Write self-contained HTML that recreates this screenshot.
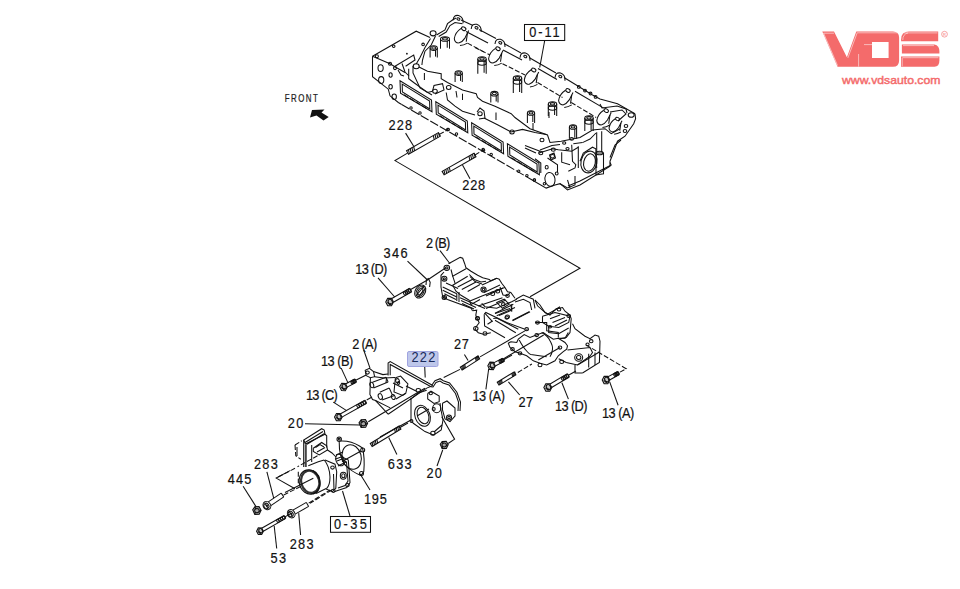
<!DOCTYPE html><html><head><meta charset="utf-8"><style>html,body{margin:0;padding:0;background:#fff;width:960px;height:589px;overflow:hidden}svg{display:block}.s,.s *{fill:none;stroke:#111;stroke-width:1.05}.d{stroke-dasharray:5 2}.d2{stroke-dasharray:9 2}.lbl{font-family:"Liberation Sans",sans-serif;font-size:14.2px;fill:#111;stroke:#111;stroke-width:0.2}.lbl2{font-family:"Liberation Sans",sans-serif;font-size:14.2px;fill:#1a2a5a}.fr{font-family:"Liberation Sans",sans-serif;font-size:11.3px;fill:#222;stroke:#222;stroke-width:0.25}.fill{fill:#111;stroke:none}</style></head><body><svg width="960" height="589" viewBox="0 0 960 589">
<g class="s">
<polyline points="372.5,56.2 416.2,31.2 430,37.5"/>
<ellipse cx="433.1" cy="33.3" rx="3" ry="2.6" transform="rotate(0 433.1 33.3)"/>
<polyline points="430.5,38.5 425,47.5 420,57.5 416.2,64"/>
<polyline points="435.5,36 431.2,45 425,51.2 422.5,60 421.9,65"/>
<polyline points="436.5,35 445,30 447.5,23.7 452.5,20 456,18"/>
<polyline points="438.7,36.5 446.2,32 450,25.6 455,22.5 462.5,23.7"/>
<path d="M453.1,20.2 Q453.6,14.5 458.6,15.5 Q463.6,17.2 463.1,23.2"/>
<ellipse cx="458.4" cy="19" rx="1.6" ry="1.1" transform="rotate(28 458.4 19)"/>
<polyline points="461,20 473,25.5"/>
<path d="M471.2,29 Q471.7,23.3 476.7,24.3 Q481.7,26 481.2,32"/>
<ellipse cx="476.5" cy="27.8" rx="1.6" ry="1.1" transform="rotate(28 476.5 27.8)"/>
<polyline points="479,29.5 496,38.5"/>
<path d="M495,44 Q495.5,38.3 500.5,39.3 Q505.5,41 505,47"/>
<ellipse cx="500.3" cy="42.8" rx="1.6" ry="1.1" transform="rotate(28 500.3 42.8)"/>
<polyline points="504,43.5 521,53"/>
<path d="M520,57.7 Q520.5,52 525.5,53 Q530.5,54.7 530,60.7"/>
<ellipse cx="525.3" cy="56.5" rx="1.6" ry="1.1" transform="rotate(28 525.3 56.5)"/>
<polyline points="529,57.5 556,73"/>
<path d="M555,77.7 Q555.5,72 560.5,73 Q565.5,74.7 565,80.7"/>
<ellipse cx="560.3" cy="76.5" rx="1.6" ry="1.1" transform="rotate(28 560.3 76.5)"/>
<polyline points="564,77.5 592.5,95 600,99 617.5,103.7 635,113.7"/>
<polyline points="466,31.5 488,43"/>
<polyline points="503,50 522,60"/>
<polyline points="538,68.5 557,79.5"/>
<polyline points="575,91.2 603.7,108.1"/>
<circle cx="578.8" cy="86.9" r="1.4"/>
<circle cx="585" cy="90.6" r="1.4"/>
<circle cx="590.5" cy="93.5" r="1.4"/>
<circle cx="595.6" cy="96.9" r="1.4"/>
<ellipse cx="631.2" cy="115" rx="3" ry="2.3" transform="rotate(0 631.2 115)"/>
<line x1="467.5" y1="43.1" x2="485" y2="52.5" class="d"/>
<line x1="475" y1="47.5" x2="490" y2="55" class="d"/>
<line x1="502.5" y1="63.7" x2="525" y2="75" class="d"/>
<line x1="537.5" y1="82.5" x2="562.5" y2="97.5" class="d"/>
<line x1="571.2" y1="102.5" x2="596.2" y2="117.5" class="d"/>
<ellipse cx="463.7" cy="28.7" rx="2.3" ry="1.7" transform="rotate(28 463.7 28.7)"/>
<path d="M461.2,28.4 Q455.2,32.2 454.3,38.7 Q454.7,42.7 458.7,43.1"/>
<path d="M468.7,30.6 Q466.7,34.7 464.95,38.1 Q462.2,42.2 458.7,43.1"/>
<line x1="467.45" y1="33.1" x2="466.2" y2="41.8"/>
<path d="M459.95,45.6 Q463.7,45.2 467.45,43.1"/>
<ellipse cx="498" cy="48.7" rx="2.3" ry="1.7" transform="rotate(28 498 48.7)"/>
<path d="M495.5,48.4 Q489.5,52.2 488.6,58.7 Q489,62.7 493,63.1"/>
<path d="M503,50.6 Q501,54.7 499.25,58.1 Q496.5,62.2 493,63.1"/>
<line x1="501.75" y1="53.1" x2="500.5" y2="61.8"/>
<path d="M494.25,65.6 Q498,65.2 501.75,63.1"/>
<ellipse cx="533.7" cy="70" rx="2.3" ry="1.7" transform="rotate(28 533.7 70)"/>
<path d="M531.2,69.7 Q525.2,73.5 524.3,80 Q524.7,84 528.7,84.4"/>
<path d="M538.7,71.9 Q536.7,76 534.95,79.4 Q532.2,83.5 528.7,84.4"/>
<line x1="537.45" y1="74.4" x2="536.2" y2="83.1"/>
<path d="M529.95,86.9 Q533.7,86.5 537.45,84.4"/>
<ellipse cx="568" cy="90.5" rx="2.3" ry="1.7" transform="rotate(28 568 90.5)"/>
<path d="M565.5,90.2 Q559.5,94 558.6,100.5 Q559,104.5 563,104.9"/>
<path d="M573,92.4 Q571,96.5 569.25,99.9 Q566.5,104 563,104.9"/>
<line x1="571.75" y1="94.9" x2="570.5" y2="103.6"/>
<path d="M564.25,107.4 Q568,107 571.75,104.9"/>
<ellipse cx="606.2" cy="110.6" rx="2.3" ry="1.7" transform="rotate(28 606.2 110.6)"/>
<path d="M603.7,110.3 Q597.7,114.1 596.8,120.6 Q597.2,124.6 601.2,125"/>
<path d="M611.2,112.5 Q609.2,116.6 607.45,120 Q604.7,124.1 601.2,125"/>
<line x1="609.95" y1="115" x2="608.7" y2="123.7"/>
<path d="M602.45,127.5 Q606.2,127.1 609.95,125"/>
<ellipse cx="617.5" cy="119" rx="2.07" ry="1.53" transform="rotate(28 617.5 119)"/>
<path d="M615.25,118.73 Q609.85,122.15 609.04,128 Q609.4,131.6 613,131.96"/>
<path d="M622,120.71 Q620.2,124.4 618.62,127.46 Q616.15,131.15 613,131.96"/>
<line x1="620.88" y1="122.96" x2="619.75" y2="130.79"/>
<path d="M614.12,134.21 Q617.5,133.85 620.88,131.96"/>
<polyline points="600,104 602,108 617,106 626,109 627,113"/>
<polyline points="610,112 622,110 626,114 618,121"/>
<polyline points="635,113.7 635.6,118.7 633.7,123.7 625,136.2 617.5,141.2 612.5,155 610,161.2 610,166.2 580,185 567.5,190 560,183.7 555,185 546.2,188.1 530,178.7"/>
<ellipse cx="626" cy="126" rx="1.8" ry="1.5" transform="rotate(0 626 126)"/>
<ellipse cx="625" cy="131" rx="1.8" ry="1.5" transform="rotate(0 625 131)"/>
<polyline points="621,140 615,145 610,157.5"/>
<polyline points="610,162.5 611.2,165 580,181 568,186"/>
<polyline points="372.5,56.2 372.5,76.7 388.3,89.2 390,95.8 398.3,102.5 401.7,104.5"/>
<line x1="401.7" y1="104.5" x2="530" y2="178.7" class="d2"/>
<circle cx="483.1" cy="149.4" r="1.2"/>
<circle cx="491.2" cy="154.4" r="1.2"/>
<circle cx="518.7" cy="171.2" r="1.2"/>
<circle cx="526.9" cy="175.6" r="1.2"/>
<circle cx="534.4" cy="180" r="1.2"/>
<circle cx="448" cy="129.4" r="1.2"/>
<circle cx="456.5" cy="134" r="1.2"/>
<circle cx="420" cy="113" r="1.2"/>
<circle cx="411" cy="108" r="1.2"/>
<polyline points="372.5,56.2 390,63.7 396.2,67.5 405,72.5"/>
<ellipse cx="380.6" cy="68.1" rx="2.6" ry="3.4" transform="rotate(0 380.6 68.1)"/>
<ellipse cx="381.2" cy="80" rx="2.6" ry="3.4" transform="rotate(0 381.2 80)"/>
<ellipse cx="390.6" cy="75" rx="1.6" ry="2.2" transform="rotate(0 390.6 75)"/>
<ellipse cx="390.6" cy="86.7" rx="1.7" ry="2.2" transform="rotate(0 390.6 86.7)"/>
<ellipse cx="394.2" cy="96.7" rx="2.2" ry="2.7" transform="rotate(0 394.2 96.7)"/>
<circle cx="376.9" cy="56.2" r="1.5"/>
<circle cx="390" cy="63.7" r="1.5"/>
<circle cx="395" cy="68.1" r="1.5"/>
<circle cx="393.7" cy="46.2" r="1.3"/>
<circle cx="423.1" cy="44.4" r="1.3"/>
<circle cx="406.9" cy="53.7" r="0.9" class="fill"/>
<polyline points="395,66.2 413.7,55 415,60 405.6,66.2"/>
<polyline points="398,70 401,75 404,76"/>
<polyline points="402,63.5 405,72 409,76"/>
<ellipse cx="416.2" cy="66.2" rx="3" ry="2.5" transform="rotate(0 416.2 66.2)"/>
<polyline points="419,67 427.5,71.2 441.2,73.7 441.2,78.7 447.5,82.5 462.5,90 476.2,93.7 477.5,97.5 482.5,101.2 495,106.2 511.2,113.7 515,117.5 530,128.7 547.5,135 550,142.5 561.2,141.2 580,137.5 592.5,130 605,128.7 611.2,133.7 620,128.7"/>
<polyline points="408.7,68.7 408.7,78.7 413.7,82.5 427.5,92.5 432.5,91.2"/>
<polyline points="446.2,92.5 447.5,100 455,106.2 462.5,111.2 475,115"/>
<polyline points="484,118 498,125 511,132 522.5,129.4 535,132.5 546.2,134.4"/>
<polyline points="413,66 413,73 420,88 432,95"/>
<polyline points="432.5,91.2 434,85.5 442.5,83.7 444,90 435,94"/>
<ellipse cx="435" cy="91.2" rx="2.3" ry="2" transform="rotate(0 435 91.2)"/>
<ellipse cx="448.7" cy="87.5" rx="2.3" ry="2" transform="rotate(0 448.7 87.5)"/>
<polyline points="477,112 480,108 484,111 485,118 479,119"/>
<ellipse cx="480" cy="113.7" rx="2.2" ry="2" transform="rotate(0 480 113.7)"/>
<ellipse cx="512" cy="132" rx="2.2" ry="2" transform="rotate(0 512 132)"/>
<ellipse cx="542" cy="140" rx="2" ry="1.8" transform="rotate(0 542 140)"/>
<line x1="424.4" y1="73" x2="424.4" y2="80"/>
<line x1="462.5" y1="93.7" x2="462.5" y2="100"/>
<line x1="456" y1="91" x2="457" y2="97.5"/>
<line x1="496" y1="112.5" x2="496" y2="120"/>
<line x1="533" y1="123" x2="533" y2="130"/>
<line x1="549" y1="112" x2="549" y2="118"/>
<ellipse cx="445" cy="39" rx="4.5" ry="2.3" transform="rotate(0 445 39)"/>
<ellipse cx="445" cy="38.8" rx="2.48" ry="1.2" transform="rotate(0 445 38.8)"/>
<line x1="440.5" y1="39" x2="440.5" y2="48.7"/>
<line x1="449.5" y1="39" x2="449.5" y2="48.7"/>
<line x1="447.25" y1="40.5" x2="447.25" y2="47.7"/>
<ellipse cx="433.7" cy="48.1" rx="3.6" ry="2.3" transform="rotate(0 433.7 48.1)"/>
<ellipse cx="433.7" cy="47.9" rx="1.98" ry="1.2" transform="rotate(0 433.7 47.9)"/>
<line x1="430.1" y1="48.1" x2="430.1" y2="57.6"/>
<line x1="437.3" y1="48.1" x2="437.3" y2="57.6"/>
<line x1="435.5" y1="49.6" x2="435.5" y2="56.6"/>
<ellipse cx="458.7" cy="73.1" rx="3.6" ry="2.3" transform="rotate(0 458.7 73.1)"/>
<ellipse cx="458.7" cy="72.9" rx="1.98" ry="1.2" transform="rotate(0 458.7 72.9)"/>
<line x1="455.1" y1="73.1" x2="455.1" y2="81.9"/>
<line x1="462.3" y1="73.1" x2="462.3" y2="81.9"/>
<line x1="460.5" y1="74.6" x2="460.5" y2="80.9"/>
<ellipse cx="482" cy="59" rx="4.2" ry="2.3" transform="rotate(0 482 59)"/>
<ellipse cx="482" cy="58.8" rx="2.31" ry="1.2" transform="rotate(0 482 58.8)"/>
<line x1="477.8" y1="59" x2="477.8" y2="73.7"/>
<line x1="486.2" y1="59" x2="486.2" y2="73.7"/>
<line x1="484.1" y1="60.5" x2="484.1" y2="72.7"/>
<ellipse cx="482" cy="63" rx="4.2" ry="2.2" transform="rotate(0 482 63)"/>
<ellipse cx="517.5" cy="78" rx="4.2" ry="2.3" transform="rotate(0 517.5 78)"/>
<ellipse cx="517.5" cy="77.8" rx="2.31" ry="1.2" transform="rotate(0 517.5 77.8)"/>
<line x1="513.3" y1="78" x2="513.3" y2="93"/>
<line x1="521.7" y1="78" x2="521.7" y2="93"/>
<line x1="519.6" y1="79.5" x2="519.6" y2="92"/>
<ellipse cx="517.5" cy="82" rx="4.2" ry="2.2" transform="rotate(0 517.5 82)"/>
<ellipse cx="494.4" cy="93.7" rx="3.6" ry="2.3" transform="rotate(0 494.4 93.7)"/>
<ellipse cx="494.4" cy="93.5" rx="1.98" ry="1.2" transform="rotate(0 494.4 93.5)"/>
<line x1="490.8" y1="93.7" x2="490.8" y2="102.5"/>
<line x1="498" y1="93.7" x2="498" y2="102.5"/>
<line x1="496.2" y1="95.2" x2="496.2" y2="101.5"/>
<ellipse cx="552.5" cy="104" rx="4.2" ry="2.3" transform="rotate(0 552.5 104)"/>
<ellipse cx="552.5" cy="103.8" rx="2.31" ry="1.2" transform="rotate(0 552.5 103.8)"/>
<line x1="548.3" y1="104" x2="548.3" y2="116"/>
<line x1="556.7" y1="104" x2="556.7" y2="116"/>
<line x1="554.6" y1="105.5" x2="554.6" y2="115"/>
<ellipse cx="552.5" cy="108" rx="4.2" ry="2.2" transform="rotate(0 552.5 108)"/>
<ellipse cx="573" cy="127" rx="3.6" ry="2.3" transform="rotate(0 573 127)"/>
<ellipse cx="573" cy="126.8" rx="1.98" ry="1.2" transform="rotate(0 573 126.8)"/>
<line x1="569.4" y1="127" x2="569.4" y2="138.7"/>
<line x1="576.6" y1="127" x2="576.6" y2="138.7"/>
<line x1="574.8" y1="128.5" x2="574.8" y2="137.7"/>
<ellipse cx="589" cy="118" rx="4.2" ry="2.3" transform="rotate(0 589 118)"/>
<ellipse cx="589" cy="117.8" rx="2.31" ry="1.2" transform="rotate(0 589 117.8)"/>
<line x1="584.8" y1="118" x2="584.8" y2="131"/>
<line x1="593.2" y1="118" x2="593.2" y2="131"/>
<line x1="591.1" y1="119.5" x2="591.1" y2="130"/>
<ellipse cx="589" cy="122" rx="4.2" ry="2.2" transform="rotate(0 589 122)"/>
<ellipse cx="531" cy="113" rx="3.6" ry="2.3" transform="rotate(0 531 113)"/>
<ellipse cx="531" cy="112.8" rx="1.98" ry="1.2" transform="rotate(0 531 112.8)"/>
<line x1="527.4" y1="113" x2="527.4" y2="123"/>
<line x1="534.6" y1="113" x2="534.6" y2="123"/>
<line x1="532.8" y1="114.5" x2="532.8" y2="122"/>
<polygon points="400,80.8 431.5,100 432,111.8 400.5,93.3"/>
<polygon points="402.2,84.1 429.6,101 429.8,109 402.4,92"/>
<line x1="404" y1="94.8" x2="428" y2="109.3" class="d"/>
<polygon points="435.8,101.8 467.3,121 467.8,132.8 436.3,114.3"/>
<polygon points="438,105.1 465.4,122 465.6,130 438.2,113"/>
<line x1="439.8" y1="115.8" x2="463.8" y2="130.3" class="d"/>
<polygon points="471.6,122.8 503.1,142 503.6,153.8 472.1,135.3"/>
<polygon points="473.8,126.1 501.2,143 501.4,151 474,134"/>
<line x1="475.6" y1="136.8" x2="499.6" y2="151.3" class="d"/>
<polygon points="507.4,143.8 538.9,163 539.4,174.8 507.9,156.3"/>
<polygon points="509.6,147.1 537,164 537.2,172 509.8,155"/>
<line x1="511.4" y1="157.8" x2="535.4" y2="172.3" class="d"/>
<polyline points="538.3,153.3 552.5,148.8 558.3,149.7 571.7,151.3 578.3,147.2"/>
<polyline points="540,150 552,145.5 560,144.5"/>
<line x1="525" y1="145.5" x2="540" y2="151.3"/>
<line x1="525" y1="148" x2="536" y2="153"/>
<line x1="578.3" y1="146.3" x2="578.3" y2="168"/>
<polyline points="571.7,144.7 572.5,161.3 575.8,164.7 575,168 568.3,171.3"/>
<polyline points="561.7,152.2 561.7,162.2 570,164.7"/>
<polyline points="547.5,158 557.5,164.7 557.5,172"/>
<polyline points="535,158.8 540.8,163 540.8,173"/>
<ellipse cx="553.3" cy="149.7" rx="2" ry="1.6" transform="rotate(0 553.3 149.7)"/>
<ellipse cx="540.8" cy="153" rx="2" ry="1.7" transform="rotate(0 540.8 153)"/>
<ellipse cx="552.5" cy="156.3" rx="2" ry="1.8" transform="rotate(0 552.5 156.3)"/>
<ellipse cx="567.5" cy="148.8" rx="1.6" ry="1.3" transform="rotate(0 567.5 148.8)"/>
<ellipse cx="564.2" cy="143" rx="1.6" ry="1.3" transform="rotate(0 564.2 143)"/>
<ellipse cx="571.7" cy="138.8" rx="1.8" ry="1.4" transform="rotate(0 571.7 138.8)"/>
<polygon points="549.5,155 554,153 555.5,158 551,160"/>
<ellipse cx="546.7" cy="167.2" rx="1.5" ry="1.8" transform="rotate(0 546.7 167.2)"/>
<ellipse cx="556.7" cy="173.4" rx="1.4" ry="1.5" transform="rotate(0 556.7 173.4)"/>
<line x1="573.3" y1="143.8" x2="582.5" y2="142.6"/>
<polyline points="582.5,142.6 590,139 596,133"/>
<ellipse cx="550" cy="179.4" rx="5" ry="7" transform="rotate(-10 550 179.4)"/>
<circle cx="534.4" cy="180" r="1.2"/>
<circle cx="544.4" cy="183.7" r="1.2"/>
<ellipse cx="589" cy="162" rx="8" ry="11" transform="rotate(12 589 162)"/>
<ellipse cx="589.5" cy="162.5" rx="5.8" ry="8.8" transform="rotate(12 589.5 162.5)"/>
<polyline points="580,161.3 583.3,153 592.5,147.2 595.8,148.8 596.7,168"/>
<line x1="596.7" y1="132.2" x2="596.7" y2="153"/>
<line x1="601.7" y1="131.3" x2="601.7" y2="152.2"/>
<ellipse cx="599.5" cy="153" rx="3.5" ry="1.8" transform="rotate(0 599.5 153)"/>
<polygon points="596,153 603.5,153 603.5,173.7 596,175"/>
<polyline points="560,183.7 567.5,188 575,185 575,176"/>
<polyline points="567.5,180 570,188"/>
</g>
<g class="s">
<ellipse cx="446.8" cy="267.8" rx="2.8" ry="2.6" transform="rotate(0 446.8 267.8)"/>
<ellipse cx="446.8" cy="267.8" rx="1.2" ry="1.1" transform="rotate(0 446.8 267.8)"/>
<polyline points="448.5,263.7 460.2,257.4 462.7,258.2 464.7,263.7 466,267.8 471,271.2 477.7,275.3 482.7,277.8 489.3,279.5 490.8,280.8 496.7,278.3 499.2,279.2 501.7,283.3 505,287.5 507.5,291.7 510.8,292.5 515,298.3"/>
<polyline points="451,269.5 452.7,276.2 466,268.7"/>
<polyline points="452.7,276.2 455.2,283.7"/>
<polyline points="444,272 441,275.3 441,287 442.7,297 447.5,299.5 471.2,308.2 472.5,310.7"/>
<ellipse cx="444.3" cy="278.7" rx="2.6" ry="2.4" transform="rotate(0 444.3 278.7)"/>
<ellipse cx="444.3" cy="278.7" rx="1.1" ry="1" transform="rotate(0 444.3 278.7)"/>
<ellipse cx="444.3" cy="297.4" rx="2.2" ry="2" transform="rotate(0 444.3 297.4)"/>
<ellipse cx="444.3" cy="297.4" rx="1" ry="0.9" transform="rotate(0 444.3 297.4)"/>
<line x1="442.7" y1="287" x2="456.8" y2="293.7"/>
<line x1="442.7" y1="290.3" x2="456.8" y2="297"/>
<line x1="444.3" y1="293.7" x2="456" y2="299.5"/>
<line x1="446" y1="283" x2="458" y2="288.5"/>
<line x1="456.8" y1="293.7" x2="456.8" y2="301"/>
<line x1="459" y1="292" x2="459" y2="302"/>
<line x1="455.2" y1="283.7" x2="467.7" y2="276.2"/>
<line x1="457.7" y1="287" x2="473.5" y2="278.7"/>
<line x1="461.8" y1="289.5" x2="476" y2="282"/>
<line x1="467.7" y1="291.5" x2="480" y2="284.5"/>
<polyline points="455.2,283.7 452.7,285.3 456,291.2 461,295.3 469.3,300.3"/>
<polyline points="469.3,274.5 474.3,279.5 481,282 486,281.2"/>
<polyline points="470,276.5 475,281.5 482,284"/>
<polyline points="469.3,300.3 471,304.5 480,299.5"/>
<ellipse cx="483.5" cy="289.5" rx="2.6" ry="2.6" transform="rotate(0 483.5 289.5)"/>
<ellipse cx="483.5" cy="289.5" rx="1.2" ry="1.2" transform="rotate(0 483.5 289.5)"/>
<ellipse cx="492.7" cy="293.7" rx="2" ry="1.8" transform="rotate(0 492.7 293.7)"/>
<ellipse cx="497.7" cy="291.2" rx="2" ry="1.8" transform="rotate(0 497.7 291.2)"/>
<polyline points="482,285 496.7,278.3"/>
<polyline points="484,292.5 500,285"/>
<polyline points="486,296 503,288"/>
<polyline points="481.7,303.3 485,306.7 496.7,308.3 511.7,301.7 516.7,299.2"/>
<polyline points="470,301 482,296 500,289 505,287.5"/>
<polyline points="500,287 503,295 507.5,295.8 510,292.5"/>
<ellipse cx="507.5" cy="295.8" rx="1.8" ry="1.6" transform="rotate(0 507.5 295.8)"/>
<polygon points="496.7,302.5 504.2,299.2 509.2,304.2 502.5,308.3"/>
<ellipse cx="503.3" cy="304.2" rx="1.8" ry="1.6" transform="rotate(0 503.3 304.2)"/>
<line x1="495" y1="313.3" x2="513.3" y2="304.2"/>
<line x1="496.7" y1="315.8" x2="515" y2="307.5"/>
<line x1="512.5" y1="320.8" x2="530" y2="311.7"/>
<line x1="511.7" y1="304.2" x2="511.7" y2="311.7"/>
<ellipse cx="506.7" cy="317.5" rx="1.8" ry="1.6" transform="rotate(0 506.7 317.5)"/>
<line x1="485" y1="313.3" x2="492.5" y2="321.7"/>
<polyline points="515.8,299.2 523.3,295 533.3,299.2 535,308.3"/>
<polyline points="515,302 523.3,299.2 530,302.5 531.7,310"/>
<polyline points="535,300 537.5,305.8 543.3,310.8 547.5,314.2 555,310 560,306.7"/>
<ellipse cx="477.5" cy="318.2" rx="1.8" ry="1.6" transform="rotate(0 477.5 318.2)"/>
<polyline points="472.5,310.7 476.7,310.2 475.8,315.2 477.5,319.3 479.2,322.7 476.7,326 475,329.3 478.3,332.7 483.3,334.3 487.5,333.5 490.8,332.7"/>
<ellipse cx="477.5" cy="318.5" rx="2" ry="1.8" transform="rotate(0 477.5 318.5)"/>
<ellipse cx="475.8" cy="328.5" rx="2.2" ry="2" transform="rotate(0 475.8 328.5)"/>
<ellipse cx="485" cy="333.5" rx="2" ry="1.8" transform="rotate(0 485 333.5)"/>
<line x1="460" y1="297.7" x2="485" y2="308.5"/>
<line x1="461" y1="300.5" x2="476" y2="307.5"/>
<line x1="462" y1="303.5" x2="474" y2="309"/>
<polyline points="484.2,314.2 485.8,312.5 506.7,322.5 525,329.3"/>
<polyline points="484.2,314.2 484.6,326 505,337.7"/>
<polyline points="493.3,318.5 496.7,318 518.3,329.3"/>
<line x1="487.5" y1="324.3" x2="492.5" y2="321"/>
<line x1="495" y1="320.2" x2="515.8" y2="332.7"/>
<line x1="478.3" y1="306" x2="502.5" y2="297.7"/>
<line x1="486" y1="308.5" x2="506" y2="300"/>
<line x1="495" y1="313.5" x2="510" y2="308.5"/>
<line x1="499" y1="315.5" x2="512" y2="310"/>
<line x1="510.8" y1="304.3" x2="511.7" y2="310.2"/>
<ellipse cx="507.5" cy="316.8" rx="2" ry="1.8" transform="rotate(0 507.5 316.8)"/>
<line x1="512.5" y1="320.2" x2="529.2" y2="311.8"/>
<polyline points="535,300 540,305 545,312.5 550,315 556.2,308.7 562.5,307.5 565,311.2 570,315 571.2,318.7 570,332.5 566.2,337.5 560,338.7"/>
<polyline points="542.5,316.2 555,312.5 570,316.2 568.7,322.5 558.7,327.5 548.7,326.2 542.5,322.5 542.5,316.2"/>
<line x1="550" y1="318.7" x2="560" y2="315"/>
<line x1="552.5" y1="322.5" x2="565" y2="317.5"/>
<line x1="555" y1="326" x2="567" y2="320"/>
<ellipse cx="559" cy="309.5" rx="1.8" ry="1.4" transform="rotate(0 559 309.5)"/>
<ellipse cx="568.7" cy="316" rx="1.8" ry="1.4" transform="rotate(0 568.7 316)"/>
<ellipse cx="537.5" cy="322.5" rx="2" ry="1.6" transform="rotate(0 537.5 322.5)"/>
<ellipse cx="550" cy="326.7" rx="1.6" ry="1.3" transform="rotate(0 550 326.7)"/>
<polyline points="548.7,326.2 548.7,332.5 558.7,333.7 568.7,328"/>
<polyline points="510.8,341.7 516.7,342.5 518.3,339.2 524.2,334.6 530,337.5 535,335.4 543.3,332.5 546.7,335 553.3,339.2 558.3,338.3 565,342.5 567.5,345.8 566.7,349.2 563.3,351.7 558.3,355.8 555,360.8 546.7,365 540,363.3 533.3,360.8 526.7,355.8 520,353.3 515,351.7 510,347.5 508.3,343.3 510.8,341.7"/>
<path d="M519.2,340 Q523,347 525.8,350 Q529,354 531,354.5 Q540,356 546.7,356.7"/>
<path d="M541.7,332.5 Q548,336 550,340.8 Q553,346 552.5,349.2 Q552,354 550,356.7"/>
<line x1="538.3" y1="360" x2="560" y2="347.5"/>
<ellipse cx="526.7" cy="329.2" rx="1.8" ry="1.6" transform="rotate(0 526.7 329.2)"/>
<ellipse cx="536.7" cy="335" rx="1.8" ry="1.6" transform="rotate(0 536.7 335)"/>
<ellipse cx="512.5" cy="349.2" rx="1.8" ry="1.6" transform="rotate(0 512.5 349.2)"/>
<ellipse cx="520" cy="353.3" rx="1.8" ry="1.6" transform="rotate(0 520 353.3)"/>
<ellipse cx="560" cy="347.5" rx="1.8" ry="1.6" transform="rotate(0 560 347.5)"/>
<ellipse cx="540" cy="365" rx="2" ry="1.8" transform="rotate(0 540 365)"/>
<ellipse cx="561.7" cy="361.7" rx="2" ry="1.8" transform="rotate(0 561.7 361.7)"/>
<polyline points="535,322.5 546.7,322.5 546.7,330.8 558.3,332.5 558.3,337.5"/>
<polyline points="568.3,332.5 565,338.3 558.3,338.3"/>
<polyline points="572.5,323.7 575,328.7 585,336.2 590,338.7 595,335 598.7,336.2 600,341.2 599.4,362.5 582.5,373"/>
<polyline points="567.5,350 590,347.5 592.5,352.5 590,356.2 577.5,365 566.2,362.5 558.7,358.7"/>
<ellipse cx="578.7" cy="357.5" rx="4" ry="3.8" transform="rotate(0 578.7 357.5)"/>
<ellipse cx="578.7" cy="357.5" rx="2.2" ry="2" transform="rotate(0 578.7 357.5)"/>
<ellipse cx="591.2" cy="341.2" rx="1.8" ry="1.6" transform="rotate(0 591.2 341.2)"/>
<ellipse cx="587.5" cy="344.4" rx="1.6" ry="1.4" transform="rotate(0 587.5 344.4)"/>
<line x1="588.7" y1="353.7" x2="588.7" y2="367.5"/>
<line x1="595" y1="352.5" x2="595" y2="365"/>
<polyline points="575,365 575,373 582.5,373"/>
<line x1="577.5" y1="365" x2="599.4" y2="352"/>
</g>
<g class="s">
<polyline points="366.2,375.6 365.2,370.4 369.4,368.3 373.5,371.5 374.6,376.7 370.4,377.7 366.2,375.6"/>
<ellipse cx="367.5" cy="372.5" rx="1.8" ry="1.6" transform="rotate(0 367.5 372.5)"/>
<polyline points="370.4,377.7 369.9,394.4 372.5,399.6 375.6,400.6 390.2,407.9"/>
<polyline points="373.5,371.5 382.9,374.6 388,374"/>
<polyline points="374.6,376.7 384,378 395,377.5"/>
<ellipse cx="371.8" cy="385" rx="1.8" ry="2.8" transform="rotate(-20 371.8 385)"/>
<line x1="372.5" y1="382.2" x2="386" y2="377.2"/>
<line x1="373.5" y1="388" x2="388.1" y2="381.9"/>
<line x1="386" y1="377.2" x2="388.1" y2="381.9"/>
<line x1="386" y1="383" x2="386.5" y2="378"/>
<ellipse cx="380.3" cy="396.5" rx="2" ry="3" transform="rotate(-20 380.3 396.5)"/>
<line x1="379.8" y1="392.3" x2="389.2" y2="388.1"/>
<line x1="381.9" y1="400.1" x2="394.4" y2="395.4"/>
<ellipse cx="393.3" cy="397" rx="1.8" ry="2.6" transform="rotate(-20 393.3 397)"/>
<line x1="389.2" y1="388.1" x2="392" y2="394"/>
<polyline points="395.4,377.7 400.6,376.1 407.9,384 405.8,393.3 402.7,395.4 394,392 395.4,377.7"/>
<ellipse cx="397.5" cy="380.8" rx="1.8" ry="2.2" transform="rotate(-20 397.5 380.8)"/>
<ellipse cx="398.5" cy="383" rx="1.2" ry="1.4" transform="rotate(-20 398.5 383)"/>
<line x1="393" y1="383" x2="403" y2="388"/>
<line x1="405.8" y1="393.3" x2="396" y2="399"/>
<line x1="406" y1="386" x2="416" y2="391"/>
<polyline points="388.1,375.6 388.1,363.1 390.2,361.6 431.9,385 435,380.8 440.2,378.7 443.3,380.8 449.6,382.9 456.9,392.3 460.5,402 460,411"/>
<polyline points="390.2,375.2 390.2,364.5 431,386.8 433,387 436,382.5 440,381 443,383 449,385 455.5,393.5 458.5,402 458,411"/>
<polyline points="388.1,414.2 426.7,388.1 433,385.5"/>
<polyline points="375.6,400.6 388.1,414.2"/>
<polyline points="410,399.6 418.3,393 426.7,390.2"/>
<ellipse cx="418.3" cy="390.2" rx="2.2" ry="1.8" transform="rotate(0 418.3 390.2)"/>
<line x1="411" y1="398.5" x2="411" y2="421"/>
<line x1="380" y1="437" x2="411" y2="420"/>
<polyline points="411.6,421 413.3,423.3 425,431.6 433.3,435 436.7,433 441.2,430 443,420 441,410 440,403"/>
<ellipse cx="422.5" cy="415.8" rx="7.5" ry="10.8" transform="rotate(-20 422.5 415.8)"/>
<ellipse cx="423" cy="415.5" rx="5.5" ry="8.5" transform="rotate(-20 423 415.5)"/>
<line x1="417" y1="416" x2="429" y2="409"/>
<ellipse cx="436.7" cy="408.3" rx="4" ry="4.5" transform="rotate(0 436.7 408.3)"/>
<ellipse cx="433.7" cy="409" rx="1.5" ry="1.5" transform="rotate(0 433.7 409)"/>
<ellipse cx="432.9" cy="433.3" rx="2.2" ry="2" transform="rotate(0 432.9 433.3)"/>
<line x1="434" y1="432" x2="442" y2="425"/>
<polyline points="427.7,393.5 431,391.2 439.2,396 439.2,401.7 434,403.5 427.7,399 427.7,393.5"/>
<ellipse cx="430.8" cy="393.3" rx="1.6" ry="1.4" transform="rotate(0 430.8 393.3)"/>
<polyline points="442.5,403.3 447,401 455,408 455,416 450,421.7 445,419 442.5,410 442.5,403.3"/>
<ellipse cx="449" cy="417.5" rx="2.5" ry="2.5" transform="rotate(0 449 417.5)"/>
<ellipse cx="449" cy="417.5" rx="1.2" ry="1.2" transform="rotate(0 449 417.5)"/>
<circle cx="411.5" cy="421" r="1.4"/>
</g>
<g class="s">
<polyline points="303.7,467 303.7,440 321.7,428.7 324.2,430 325,434.2 326.7,435.8 326.7,447.5"/>
<polyline points="305,442.5 323,431.5"/>
<polyline points="306.5,444.5 324.5,433.5"/>
<polyline points="303.7,440 305.4,444 325,434.2"/>
<line x1="305.8" y1="444.5" x2="305.8" y2="467" style="stroke-width:2;stroke:#444"/>
<line x1="311.7" y1="445" x2="311.7" y2="462"/>
<polyline points="295,445 301.7,440.8" class="d"/>
<polyline points="295,445 295.8,455.8 300.8,459.2" class="d"/>
<line x1="297" y1="447" x2="297" y2="456"/>
<polyline points="313.3,448.3 321.7,442.5 326.7,445.8 327.5,450 319.2,455 313.3,451.5 313.3,448.3"/>
<polyline points="315.5,447.5 320,444.5 324,447"/>
<line x1="317" y1="452" x2="325" y2="447.5"/>
<polyline points="327.5,450 332,453 336,457"/>
<ellipse cx="310.2" cy="481.8" rx="9" ry="11.2" transform="rotate(-15 310.2 481.8)" style="stroke-width:2.2;stroke:#333"/>
<ellipse cx="309.5" cy="482" rx="10.3" ry="12.3" transform="rotate(-15 309.5 482)"/>
<path d="M313,470.5 Q321,474 320,486 Q318,493 313,494"/>
<polyline points="308.3,465.8 318.3,461.7 324.2,460"/>
<path d="M324.2,460 Q329.5,466 330,477 Q330,485 326.7,488.3"/>
<line x1="316" y1="493.5" x2="326.7" y2="488.3"/>
<line x1="298.3" y1="471.7" x2="298.3" y2="483.3" class="d"/>
<polyline points="325,460 335,464.2 336.7,471.7 335.8,488.3 332.5,491.7 326,489"/>
<line x1="333.5" y1="474" x2="334" y2="490"/>
<polyline points="335,459.2 341.7,456.7 348.3,460 350,482.5 346.7,487.5 339.2,490 334.2,491.7"/>
<polyline points="337,461 342,459 346.5,462 348,481 345,485.5 338,488"/>
<ellipse cx="332.5" cy="467.5" rx="1.8" ry="1.6" transform="rotate(0 332.5 467.5)"/>
<ellipse cx="333.3" cy="490.8" rx="1.8" ry="1.6" transform="rotate(0 333.3 490.8)"/>
<ellipse cx="347.5" cy="485" rx="1.8" ry="1.6" transform="rotate(0 347.5 485)"/>
<ellipse cx="343.3" cy="475.8" rx="3" ry="3.5" transform="rotate(0 343.3 475.8)"/>
<ellipse cx="343.3" cy="475.8" rx="1.6" ry="2" transform="rotate(0 343.3 475.8)"/>
<ellipse cx="340" cy="460" rx="4" ry="6" transform="rotate(-20 340 460)"/>
<line x1="336" y1="455" x2="343" y2="452"/>
<line x1="338" y1="466" x2="346" y2="462"/>
<ellipse cx="339.2" cy="439.2" rx="2.2" ry="2.2" transform="rotate(0 339.2 439.2)"/>
<ellipse cx="339.2" cy="439.2" rx="0.9" ry="0.9" transform="rotate(0 339.2 439.2)"/>
<path d="M340.5,441 Q351,440.5 359.5,446 L362.5,448 Q365,458 363.8,471.5 L361,475.5 Q352,472 345,465 Q339,457 339.2,441.5"/>
<ellipse cx="351.7" cy="457" rx="9.5" ry="12.5" transform="rotate(-15 351.7 457)"/>
<ellipse cx="362.7" cy="450" rx="2" ry="2" transform="rotate(0 362.7 450)"/>
<ellipse cx="361.5" cy="473.5" rx="2" ry="2" transform="rotate(0 361.5 473.5)"/>
<line x1="342" y1="461.5" x2="361" y2="451"/>
</g>
<g class="s">
<polygon points="408.49,154.24 440.39,136.14 438.41,132.66 406.51,150.76"/>
<line x1="409.36" y1="153.74" x2="408.43" y2="149.67"/>
<line x1="411.12" y1="152.75" x2="410.19" y2="148.68"/>
<line x1="412.87" y1="151.75" x2="411.94" y2="147.68"/>
<line x1="414.63" y1="150.76" x2="413.7" y2="146.68"/>
<line x1="434.25" y1="139.62" x2="433.32" y2="135.55"/>
<line x1="436" y1="138.63" x2="435.07" y2="134.56"/>
<line x1="437.76" y1="137.63" x2="436.82" y2="133.56"/>
<line x1="439.51" y1="136.64" x2="438.58" y2="132.57"/>
<polygon points="444.09,174.84 475.99,156.74 474.01,153.26 442.11,171.36"/>
<line x1="444.96" y1="174.34" x2="444.03" y2="170.27"/>
<line x1="446.72" y1="173.35" x2="445.79" y2="169.28"/>
<line x1="448.47" y1="172.35" x2="447.54" y2="168.28"/>
<line x1="450.23" y1="171.36" x2="449.3" y2="167.28"/>
<line x1="469.85" y1="160.22" x2="468.92" y2="156.15"/>
<line x1="471.6" y1="159.23" x2="470.67" y2="155.16"/>
<line x1="473.36" y1="158.23" x2="472.42" y2="154.16"/>
<line x1="475.11" y1="157.24" x2="474.18" y2="153.17"/>
<circle cx="448" cy="129.6" r="1.3"/>
<circle cx="483.5" cy="150.3" r="1.3"/>
<line x1="393.44" y1="302.32" x2="411.74" y2="291.82"/>
<line x1="391.35" y1="298.67" x2="409.66" y2="288.18"/>
<line x1="411.74" y1="291.82" x2="409.66" y2="288.18"/>
<ellipse cx="404.79" cy="293.39" rx="1.2" ry="1.89" transform="rotate(-29.83 404.79 293.39)"/>
<ellipse cx="406.37" cy="292.48" rx="1.2" ry="1.89" transform="rotate(-29.83 406.37 292.48)"/>
<ellipse cx="407.96" cy="291.57" rx="1.2" ry="1.89" transform="rotate(-29.83 407.96 291.57)"/>
<ellipse cx="409.54" cy="290.67" rx="1.2" ry="1.89" transform="rotate(-29.83 409.54 290.67)"/>
<polygon points="393.47,302.11 391.53,305.83 387.66,305.82 385.73,302.09 387.67,298.37 391.54,298.38" style="fill:#c8c8c8"/>
<ellipse cx="390.29" cy="301.7" rx="1.94" ry="2.58" transform="rotate(-29.83 390.29 301.7)"/>
<line x1="387.31" y1="302.42" x2="390.14" y2="304.77"/>
<circle cx="390.19" cy="303.99" r="0.9" class="fill"/>
<ellipse cx="420.2" cy="291.5" rx="7" ry="5" transform="rotate(-60 420.2 291.5)"/>
<ellipse cx="420.2" cy="291.5" rx="5.5" ry="3.5" transform="rotate(-60 420.2 291.5)"/>
<ellipse cx="420.2" cy="291.5" rx="3.8" ry="2" transform="rotate(-60 420.2 291.5)"/>
<line x1="416" y1="296" x2="424" y2="286"/>
<line x1="418" y1="297" x2="426" y2="288"/>
<polyline points="426,285 426.4,279.8 428.3,278.5 430.2,282.3 429.6,287"/>
<line x1="347.13" y1="387.11" x2="356.35" y2="382.19"/>
<line x1="345.43" y1="383.93" x2="354.65" y2="379.01"/>
<line x1="356.35" y1="382.19" x2="354.65" y2="379.01"/>
<ellipse cx="352.14" cy="382.39" rx="1.2" ry="1.62" transform="rotate(-28.07 352.14 382.39)"/>
<ellipse cx="353.04" cy="381.91" rx="1.2" ry="1.62" transform="rotate(-28.07 353.04 381.91)"/>
<ellipse cx="353.94" cy="381.43" rx="1.2" ry="1.62" transform="rotate(-28.07 353.94 381.43)"/>
<ellipse cx="354.84" cy="380.95" rx="1.2" ry="1.62" transform="rotate(-28.07 354.84 380.95)"/>
<polygon points="347.28,387.14 345.28,390.71 341.5,390.56 339.72,386.86 341.72,383.29 345.5,383.44" style="fill:#c8c8c8"/>
<ellipse cx="344.21" cy="386.62" rx="1.89" ry="2.52" transform="rotate(-28.07 344.21 386.62)"/>
<line x1="341.25" y1="387.25" x2="343.94" y2="389.62"/>
<circle cx="344.02" cy="388.87" r="0.9" class="fill"/>
<line x1="341.93" y1="417.13" x2="366.68" y2="403.27"/>
<line x1="340.17" y1="413.99" x2="364.92" y2="400.13"/>
<line x1="366.68" y1="403.27" x2="364.92" y2="400.13"/>
<ellipse cx="358.1" cy="406.01" rx="1.2" ry="1.62" transform="rotate(-29.25 358.1 406.01)"/>
<ellipse cx="360.16" cy="404.86" rx="1.2" ry="1.62" transform="rotate(-29.25 360.16 404.86)"/>
<ellipse cx="362.23" cy="403.7" rx="1.2" ry="1.62" transform="rotate(-29.25 362.23 403.7)"/>
<ellipse cx="364.29" cy="402.55" rx="1.2" ry="1.62" transform="rotate(-29.25 364.29 402.55)"/>
<polygon points="342.08,417.16 340.15,420.76 336.37,420.71 334.52,417.04 336.45,413.44 340.23,413.49" style="fill:#c8c8c8"/>
<ellipse cx="339" cy="416.71" rx="1.89" ry="2.52" transform="rotate(-29.25 339 416.71)"/>
<line x1="336.06" y1="417.39" x2="338.8" y2="419.71"/>
<circle cx="338.86" cy="418.95" r="0.9" class="fill"/>
<polygon points="359,422.84 361.15,419.83 365.45,419.62 367.6,423.27 365.67,427.35 361.15,427.57" style="fill:#a8a8a8"/>
<ellipse cx="363.3" cy="423.7" rx="2.37" ry="2.15" transform="rotate(0 363.3 423.7)"/>
<line x1="361.15" y1="419.83" x2="362.44" y2="422.41"/>
<line x1="367.6" y1="423.27" x2="365.45" y2="424.56"/>
<line x1="361.15" y1="427.57" x2="361.58" y2="425.42"/>
<polygon points="462.12,370.13 479.62,358.93 477.78,356.07 460.28,367.27"/>
<line x1="462.6" y1="369.82" x2="461.78" y2="366.31"/>
<line x1="463.56" y1="369.21" x2="462.74" y2="365.7"/>
<line x1="464.52" y1="368.59" x2="463.7" y2="365.08"/>
<line x1="465.49" y1="367.98" x2="464.66" y2="364.47"/>
<line x1="476.25" y1="361.09" x2="475.43" y2="357.58"/>
<line x1="477.21" y1="360.47" x2="476.39" y2="356.96"/>
<line x1="478.17" y1="359.86" x2="477.35" y2="356.35"/>
<line x1="479.14" y1="359.24" x2="478.31" y2="355.73"/>
<polygon points="372.13,446.54 400.93,429.04 399.07,425.96 370.27,443.46"/>
<line x1="372.93" y1="446.06" x2="372.08" y2="442.36"/>
<line x1="374.51" y1="445.09" x2="373.67" y2="441.39"/>
<line x1="376.09" y1="444.13" x2="375.25" y2="440.43"/>
<line x1="377.68" y1="443.17" x2="376.83" y2="439.47"/>
<line x1="395.39" y1="432.41" x2="394.55" y2="428.71"/>
<line x1="396.97" y1="431.44" x2="396.13" y2="427.74"/>
<line x1="398.56" y1="430.48" x2="397.71" y2="426.78"/>
<line x1="400.14" y1="429.52" x2="399.3" y2="425.82"/>
<polygon points="440.2,444.2 442.2,441.4 446.2,441.2 448.2,444.6 446.4,448.4 442.2,448.6" style="fill:#a8a8a8"/>
<ellipse cx="444.2" cy="445" rx="2.2" ry="2" transform="rotate(0 444.2 445)"/>
<line x1="442.2" y1="441.4" x2="443.4" y2="443.8"/>
<line x1="448.2" y1="444.6" x2="446.2" y2="445.8"/>
<line x1="442.2" y1="448.6" x2="442.6" y2="446.6"/>
<line x1="270.86" y1="505.69" x2="283.79" y2="496.9"/>
<line x1="268.27" y1="501.89" x2="281.21" y2="493.1"/>
<line x1="283.79" y1="496.9" x2="281.21" y2="493.1"/>
<ellipse cx="266.9" cy="505.6" rx="3.65" ry="4.3" transform="rotate(-34.2 266.9 505.6)"/>
<ellipse cx="266.4" cy="505.94" rx="2.37" ry="2.79" transform="rotate(-34.2 266.4 505.94)"/>
<polygon points="267.25,507.18 265.56,504.7 267.4,505.26"/>
<line x1="295.14" y1="514.1" x2="308.64" y2="506.4"/>
<line x1="292.86" y1="510.1" x2="306.36" y2="502.4"/>
<line x1="308.64" y1="506.4" x2="306.36" y2="502.4"/>
<ellipse cx="291.2" cy="513.7" rx="3.65" ry="4.3" transform="rotate(-29.71 291.2 513.7)"/>
<ellipse cx="290.68" cy="514" rx="2.37" ry="2.79" transform="rotate(-29.71 290.68 514)"/>
<polygon points="291.42,515.3 289.94,512.69 291.72,513.4"/>
<line x1="263.32" y1="531.26" x2="285.84" y2="518.38"/>
<line x1="261.63" y1="528.31" x2="284.16" y2="515.42"/>
<line x1="285.84" y1="518.38" x2="284.16" y2="515.42"/>
<ellipse cx="278" cy="520.9" rx="1.2" ry="1.53" transform="rotate(-29.77 278 520.9)"/>
<ellipse cx="279.88" cy="519.83" rx="1.2" ry="1.53" transform="rotate(-29.77 279.88 519.83)"/>
<ellipse cx="281.75" cy="518.76" rx="1.2" ry="1.53" transform="rotate(-29.77 281.75 518.76)"/>
<ellipse cx="283.62" cy="517.69" rx="1.2" ry="1.53" transform="rotate(-29.77 283.62 517.69)"/>
<polygon points="263.42,531.22 261.7,534.5 258.28,534.48 256.58,531.18 258.3,527.9 261.72,527.92" style="fill:#c8c8c8"/>
<ellipse cx="260.69" cy="530.8" rx="1.71" ry="2.28" transform="rotate(-29.77 260.69 530.8)"/>
<line x1="257.97" y1="531.48" x2="260.47" y2="533.56"/>
<circle cx="260.52" cy="532.87" r="0.9" class="fill"/>
<polygon points="252.7,509.76 254.8,506.82 259,506.61 261.1,510.18 259.21,514.17 254.8,514.38" style="fill:#a8a8a8"/>
<ellipse cx="256.9" cy="510.6" rx="2.31" ry="2.1" transform="rotate(0 256.9 510.6)"/>
<line x1="254.8" y1="506.82" x2="256.06" y2="509.34"/>
<line x1="261.1" y1="510.18" x2="259" y2="511.44"/>
<line x1="254.8" y1="514.38" x2="255.22" y2="512.28"/>
<line x1="495.22" y1="366.06" x2="504.32" y2="361.4"/>
<line x1="493.58" y1="362.86" x2="502.68" y2="358.2"/>
<line x1="504.32" y1="361.4" x2="502.68" y2="358.2"/>
<ellipse cx="500.17" cy="361.51" rx="1.2" ry="1.62" transform="rotate(-27.14 500.17 361.51)"/>
<ellipse cx="501.06" cy="361.05" rx="1.2" ry="1.62" transform="rotate(-27.14 501.06 361.05)"/>
<ellipse cx="501.95" cy="360.59" rx="1.2" ry="1.62" transform="rotate(-27.14 501.95 360.59)"/>
<ellipse cx="502.85" cy="360.14" rx="1.2" ry="1.62" transform="rotate(-27.14 502.85 360.14)"/>
<polygon points="495.38,366.11 493.32,369.64 489.55,369.43 487.82,365.69 489.88,362.16 493.65,362.37" style="fill:#c8c8c8"/>
<ellipse cx="492.31" cy="365.54" rx="1.89" ry="2.52" transform="rotate(-27.14 492.31 365.54)"/>
<line x1="489.35" y1="366.11" x2="492" y2="368.53"/>
<circle cx="492.09" cy="367.77" r="0.9" class="fill"/>
<polygon points="498.98,385.15 515.88,374.85 514.12,371.95 497.22,382.25"/>
<line x1="499.45" y1="384.87" x2="498.7" y2="381.34"/>
<line x1="500.38" y1="384.3" x2="499.63" y2="380.77"/>
<line x1="501.31" y1="383.74" x2="500.56" y2="380.21"/>
<line x1="502.24" y1="383.17" x2="501.49" y2="379.64"/>
<line x1="512.63" y1="376.83" x2="511.89" y2="373.31"/>
<line x1="513.56" y1="376.27" x2="512.82" y2="372.74"/>
<line x1="514.49" y1="375.7" x2="513.75" y2="372.17"/>
<line x1="515.42" y1="375.13" x2="514.68" y2="371.61"/>
<line x1="551.61" y1="387.45" x2="569.37" y2="376.93"/>
<line x1="549.67" y1="384.18" x2="567.43" y2="373.67"/>
<line x1="569.37" y1="376.93" x2="567.43" y2="373.67"/>
<ellipse cx="562.63" cy="378.72" rx="1.2" ry="1.71" transform="rotate(-30.64 562.63 378.72)"/>
<ellipse cx="564.18" cy="377.8" rx="1.2" ry="1.71" transform="rotate(-30.64 564.18 377.8)"/>
<ellipse cx="565.72" cy="376.89" rx="1.2" ry="1.71" transform="rotate(-30.64 565.72 376.89)"/>
<ellipse cx="567.27" cy="375.97" rx="1.2" ry="1.71" transform="rotate(-30.64 567.27 375.97)"/>
<polygon points="551.76,387.45 549.82,391.29 545.86,391.33 543.84,387.55 545.78,383.71 549.74,383.67" style="fill:#c8c8c8"/>
<ellipse cx="548.49" cy="387.09" rx="1.98" ry="2.64" transform="rotate(-30.64 548.49 387.09)"/>
<line x1="545.46" y1="387.86" x2="548.39" y2="390.22"/>
<circle cx="548.43" cy="389.43" r="0.9" class="fill"/>
<line x1="609.63" y1="380.03" x2="619.38" y2="374.57"/>
<line x1="607.87" y1="376.89" x2="617.62" y2="371.43"/>
<line x1="619.38" y1="374.57" x2="617.62" y2="371.43"/>
<ellipse cx="615" cy="374.96" rx="1.2" ry="1.62" transform="rotate(-29.25 615 374.96)"/>
<ellipse cx="615.94" cy="374.44" rx="1.2" ry="1.62" transform="rotate(-29.25 615.94 374.44)"/>
<ellipse cx="616.88" cy="373.91" rx="1.2" ry="1.62" transform="rotate(-29.25 616.88 373.91)"/>
<ellipse cx="617.81" cy="373.38" rx="1.2" ry="1.62" transform="rotate(-29.25 617.81 373.38)"/>
<polygon points="609.78,380.06 607.85,383.66 604.07,383.61 602.22,379.94 604.15,376.34 607.93,376.39" style="fill:#c8c8c8"/>
<ellipse cx="606.7" cy="379.61" rx="1.89" ry="2.52" transform="rotate(-29.25 606.7 379.61)"/>
<line x1="603.76" y1="380.29" x2="606.5" y2="382.61"/>
<circle cx="606.56" cy="381.85" r="0.9" class="fill"/>
</g>
<g class="s">
<polyline points="407.5,153.1 395,160.6 580,268.3 530,296.7"/>
<line x1="439.4" y1="134.4" x2="448" y2="129.5" class="d"/>
<line x1="475" y1="155" x2="483.1" y2="150" class="d"/>
<line x1="405.6" y1="133.1" x2="413.7" y2="146.2"/>
<line x1="462.5" y1="165" x2="470" y2="178.7"/>
<line x1="544.7" y1="40.5" x2="539.7" y2="67.5"/>
<line x1="440" y1="250.6" x2="450" y2="263.7"/>
<line x1="407.5" y1="261.2" x2="427.5" y2="280"/>
<line x1="378" y1="277.9" x2="394.7" y2="297"/>
<polyline points="410.7,289.5 427.5,280 446.2,267.5"/>
<line x1="363.7" y1="350" x2="370" y2="368.1"/>
<line x1="341.2" y1="368.1" x2="348.1" y2="383.1"/>
<line x1="356.2" y1="380" x2="366.2" y2="375"/>
<line x1="424.7" y1="366.6" x2="425.2" y2="377.5"/>
<line x1="464.4" y1="354.4" x2="468.1" y2="360.6"/>
<line x1="443.7" y1="377.5" x2="460" y2="369.4"/>
<line x1="333.3" y1="402.1" x2="346.2" y2="410.4"/>
<line x1="366.7" y1="400" x2="372" y2="397"/>
<line x1="305" y1="423.7" x2="360" y2="425"/>
<line x1="368.3" y1="421.7" x2="424.9" y2="388.2"/>
<polyline points="441.7,416.7 454.6,439.2 448.2,443.5"/>
<line x1="442.7" y1="450" x2="437" y2="466"/>
<line x1="388.7" y1="437.5" x2="396.9" y2="454.4"/>
<line x1="400" y1="427.5" x2="408" y2="423"/>
<line x1="360" y1="473.7" x2="370" y2="490"/>
<line x1="266.9" y1="471.9" x2="273.7" y2="498.1"/>
<line x1="243.1" y1="486.2" x2="256.2" y2="506.9"/>
<line x1="298.7" y1="513.1" x2="300.6" y2="535"/>
<line x1="274.2" y1="526" x2="276.7" y2="548.5"/>
<line x1="342.5" y1="491" x2="350" y2="516"/>
<polyline points="290,470.6 276.2,478.1 295,488.7"/>
<line x1="283.7" y1="495" x2="301.2" y2="486.2" class="d"/>
<line x1="308.7" y1="503.1" x2="330" y2="490" class="d"/>
<line x1="285" y1="516.9" x2="290" y2="514"/>
<line x1="317.5" y1="455.8" x2="297.5" y2="466.7" class="d"/>
<line x1="295" y1="468.3" x2="276.2" y2="478.1" class="d"/>
<line x1="313.3" y1="478.3" x2="285" y2="492.5"/>
<line x1="331.7" y1="490" x2="310" y2="503.3" class="d"/>
<line x1="488.7" y1="368.7" x2="485.9" y2="389.4"/>
<line x1="508.4" y1="381.9" x2="519.7" y2="395"/>
<line x1="561.9" y1="382.8" x2="568.4" y2="399.1"/>
<line x1="609.7" y1="381.9" x2="618.1" y2="405.3"/>
<line x1="517.8" y1="372.5" x2="531.9" y2="364" class="d"/>
<line x1="568.4" y1="375.3" x2="576" y2="371"/>
<polyline points="620,372.1 626.2,368.7 586.2,345" class="d"/>
<line x1="502.8" y1="360.3" x2="512" y2="355"/>
<line x1="480" y1="356.9" x2="527.5" y2="329.4"/>
<line x1="503.7" y1="358.7" x2="543.7" y2="335"/>
</g>
<text transform="translate(388.4 129.7) scale(0.9 1)" x="0" y="0" textLength="26.38" lengthAdjust="spacing" class="lbl">228</text>
<text transform="translate(462.2 190) scale(0.9 1)" x="0" y="0" textLength="25.6" lengthAdjust="spacing" class="lbl">228</text>
<text transform="translate(529.2 36.7) scale(0.9 1)" x="0" y="0" textLength="33.93" lengthAdjust="spacing" class="lbl">0-11</text>
<rect x="524.5" y="24.5" width="40.2" height="16" class="s"/>
<text transform="translate(425.9 247.5) scale(0.9 1)" x="0" y="0" textLength="27.04" lengthAdjust="spacing" class="lbl">2 (B)</text>
<text transform="translate(383.4 258.1) scale(0.9 1)" x="0" y="0" textLength="27.04" lengthAdjust="spacing" class="lbl">346</text>
<text transform="translate(355.3 274.4) scale(0.9 1)" x="0" y="0" textLength="35.38" lengthAdjust="spacing" class="lbl">13 (D)</text>
<text transform="translate(352.2 349.4) scale(0.9 1)" x="0" y="0" textLength="27.71" lengthAdjust="spacing" class="lbl">2 (A)</text>
<text transform="translate(320.9 365.6) scale(0.9 1)" x="0" y="0" textLength="36.04" lengthAdjust="spacing" class="lbl">13 (B)</text>
<text transform="translate(305.9 400) scale(0.9 1)" x="0" y="0" textLength="35.38" lengthAdjust="spacing" class="lbl">13 (C)</text>
<rect x="407.5" y="351.5" width="30.5" height="15" rx="1.5" fill="#bec7ea" stroke="#a0a4e0" stroke-width="1"/>
<text transform="translate(411.6 361.9) scale(0.9 1)" x="0" y="0" textLength="26.27" lengthAdjust="spacing" class="lbl2">222</text>
<text transform="translate(454.1 349.4) scale(0.9 1)" x="0" y="0" textLength="16.49" lengthAdjust="spacing" class="lbl">27</text>
<text transform="translate(287.8 428.1) scale(0.9 1)" x="0" y="0" textLength="17.27" lengthAdjust="spacing" class="lbl">20</text>
<text transform="translate(472.5 400.6) scale(0.9 1)" x="0" y="0" textLength="36.04" lengthAdjust="spacing" class="lbl">13 (A)</text>
<text transform="translate(518.4 407.2) scale(0.9 1)" x="0" y="0" textLength="16.27" lengthAdjust="spacing" class="lbl">27</text>
<text transform="translate(555 410.9) scale(0.9 1)" x="0" y="0" textLength="36.04" lengthAdjust="spacing" class="lbl">13 (D)</text>
<text transform="translate(601.9 417.5) scale(0.9 1)" x="0" y="0" textLength="35.93" lengthAdjust="spacing" class="lbl">13 (A)</text>
<text transform="translate(254.1 468.7) scale(0.9 1)" x="0" y="0" textLength="26.27" lengthAdjust="spacing" class="lbl">283</text>
<text transform="translate(227.8 483.7) scale(0.9 1)" x="0" y="0" textLength="26.27" lengthAdjust="spacing" class="lbl">445</text>
<text transform="translate(387.8 468.5) scale(0.9 1)" x="0" y="0" textLength="26.6" lengthAdjust="spacing" class="lbl">633</text>
<text transform="translate(426.4 478.3) scale(0.9 1)" x="0" y="0" textLength="17.27" lengthAdjust="spacing" class="lbl">20</text>
<text transform="translate(363.9 504.3) scale(0.9 1)" x="0" y="0" textLength="25.6" lengthAdjust="spacing" class="lbl">195</text>
<rect x="330.5" y="516.5" width="40" height="15.8" class="s"/>
<text transform="translate(333.9 528.5) scale(0.9 1)" x="0" y="0" textLength="36.71" lengthAdjust="spacing" class="lbl">0-35</text>
<text transform="translate(289.7 549.3) scale(0.9 1)" x="0" y="0" textLength="26.49" lengthAdjust="spacing" class="lbl">283</text>
<text transform="translate(270.5 562.7) scale(0.9 1)" x="0" y="0" textLength="17.27" lengthAdjust="spacing" class="lbl">53</text>
<text transform="translate(284.7 102.4) scale(0.7 1)" x="0" y="0" textLength="47.46" lengthAdjust="spacing" class="fr">FRONT</text>
<polygon points="310,117.5 312,110 324.5,109.5 321.5,112.5 328.7,117 323.5,120.6 316.5,115.5" class="fill"/>
<g fill="#f46b6b" stroke="none">
<path d="M822.3,31.5 L834,31.5 L846.9,57.2 L856.3,31.5 L893,31.5 Q899.1,31.5 899.1,37.5 L899.1,60.5 Q899.1,66.8 893,66.8 L837.5,66.8 Z"/>
<path d="M909,31.5 L938.2,31.5 L938.2,41.2 L901.1,41.2 L901.1,39.5 Q901.1,31.5 909,31.5 Z"/>
<path d="M901.9,44.4 L934.5,44.4 Q939.4,45.5 939.4,51 L939.4,53.5 L901.9,53.5 Z"/>
<path d="M901,56.5 L939.4,56.5 L939.4,60.5 Q939.4,66.7 934.5,66.7 L901,66.7 Z"/>
</g>
<g fill="#fff" stroke="none">
<polygon points="872,42 888.6,42 888.6,58 872,58"/>
</g>
<g stroke="#fff" stroke-width="0.6" fill="none" opacity="0.9">
<polyline points="823.6,33.2 837.6,65.6"/>
<polyline points="823.5,33.2 834,33.2"/>
<polyline points="857.3,32.5 847.8,58"/>
<polyline points="857.5,32.8 898,32.8"/>
<polyline points="864,44.6 872,44.6"/>
<line x1="858.6" y1="54" x2="858.6" y2="66.6"/>
<polyline points="887.3,43.5 887.3,57"/>
<polyline points="904,32.9 937.5,32.9"/>
<path d="M902.8,40 Q902.8,34 908,33"/>
<polyline points="903,45.6 934,45.6"/>
<polyline points="902.5,57.7 938.5,57.7"/>
<line x1="902.2" y1="57.7" x2="902.2" y2="66.3"/>
</g>
<circle cx="944.5" cy="34.2" r="2.9" fill="none" stroke="#f46b6b" stroke-width="0.6"/>
<text x="944.5" y="35.6" font-size="4" text-anchor="middle" fill="#f46b6b" font-family="Liberation Sans, sans-serif">R</text>
<text x="842" y="84" textLength="98.4" lengthAdjust="spacingAndGlyphs" fill="#f46b6b" stroke="#f46b6b" stroke-width="0.45" style="font: 11.6px 'Liberation Sans', sans-serif">www.vdsauto.com</text>
</svg></body></html>
